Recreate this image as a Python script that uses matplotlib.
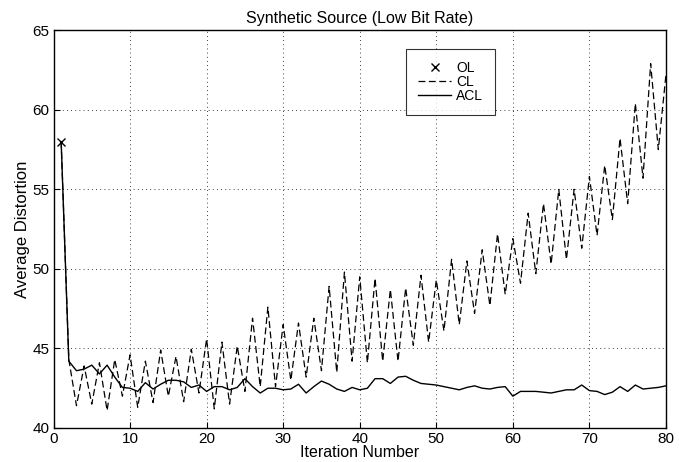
import matplotlib
matplotlib.use("Agg")
import matplotlib.pyplot as plt

plt.rcParams['font.family'] = ['Liberation Sans', 'DejaVu Sans']

iterations = list(range(1, 81))

ol_x = [1]
ol_y = [58.0]

cl = [58.0, 44.3, 41.4, 43.9, 41.5, 44.1, 41.1, 44.3, 42.0, 44.6,
      41.3, 44.2, 41.6, 44.9, 42.0, 44.5, 41.65, 44.95, 42.2, 45.6,
      41.2, 45.4, 41.5, 45.15, 42.3, 46.9, 42.6, 47.6, 42.6, 46.5,
      43.0, 46.6, 43.2, 46.9, 43.6, 48.9, 43.5, 49.8, 44.2, 49.5,
      44.1, 49.4, 44.2, 48.7, 44.2, 48.8, 45.2, 49.6, 45.4, 49.3,
      46.1, 50.6, 46.5, 50.5, 47.2, 51.2, 47.7, 52.2, 48.4, 51.9,
      49.1, 53.5, 49.7, 54.1, 50.3, 55.0, 50.6, 55.0, 51.3, 55.8,
      52.1, 56.5, 53.1, 58.2, 54.1, 60.4, 55.7, 62.9, 57.5, 62.2]

acl = [58.0, 44.2, 43.6, 43.7, 43.95, 43.4, 43.95, 43.2, 42.55, 42.5,
       42.3, 42.85, 42.45, 42.75, 43.0, 43.0, 42.9, 42.55, 42.7, 42.3,
       42.6, 42.6, 42.4, 42.55, 43.1, 42.6, 42.2, 42.5, 42.5, 42.4,
       42.45, 42.75, 42.2, 42.6, 42.95, 42.75, 42.45, 42.3, 42.55, 42.4,
       42.5, 43.1, 43.1, 42.8, 43.2, 43.25, 43.0, 42.8, 42.75, 42.7,
       42.6, 42.5, 42.4, 42.55, 42.65, 42.5, 42.45, 42.55, 42.6, 42.0,
       42.3, 42.3, 42.3, 42.25, 42.2, 42.3, 42.4, 42.4, 42.7, 42.35,
       42.3, 42.1, 42.25, 42.6, 42.3, 42.7, 42.45, 42.5, 42.55, 42.65]

title = "Synthetic Source (Low Bit Rate)"
xlabel = "Iteration Number"
ylabel = "Average Distortion"
xticks = [0, 10, 20, 30, 40, 50, 60, 70, 80]
yticks = [40, 45, 50, 55, 60, 65]

fig = plt.figure(figsize=(6.79, 4.62), dpi=100)
ax = fig.add_axes([0.0788, 0.0736, 0.902, 0.861])

ax.plot(ol_x, ol_y, linestyle='none', marker='x', color='black',
        markersize=6, markeredgewidth=1.0, label='OL')
ax.plot(iterations, cl, linestyle=(0, (5.5, 2.8)), color='black',
        linewidth=0.9, label='CL')
ax.plot(iterations, acl, linestyle='-', color='black', linewidth=1.0,
        label='ACL')

ax.set_xlim(0, 80)
ax.set_ylim(40, 65)
ax.set_xticks(xticks)
ax.set_yticks(yticks)
ax.tick_params(direction='in', length=4, labelsize=11, width=0.8, pad=3)
ax.grid(True, linestyle=(0, (1, 4)), color='black', linewidth=0.6)
for s in ax.spines.values():
    s.set_linewidth(1.0)

ax.set_title(title, fontsize=11.5, pad=5)
ax.set_xlabel(xlabel, fontsize=11.5, labelpad=-1)
ax.set_ylabel(ylabel, fontsize=12, labelpad=2)

leg = ax.legend(loc='upper left', bbox_to_anchor=(0.576, 0.952),
                borderaxespad=0, fancybox=False, fontsize=10,
                handlelength=2.4, handletextpad=0.35, labelspacing=0.0,
                borderpad=0.85)
leg.get_frame().set_edgecolor('black')
leg.get_frame().set_linewidth(0.8)

fig.savefig("out.png", dpi=100)
